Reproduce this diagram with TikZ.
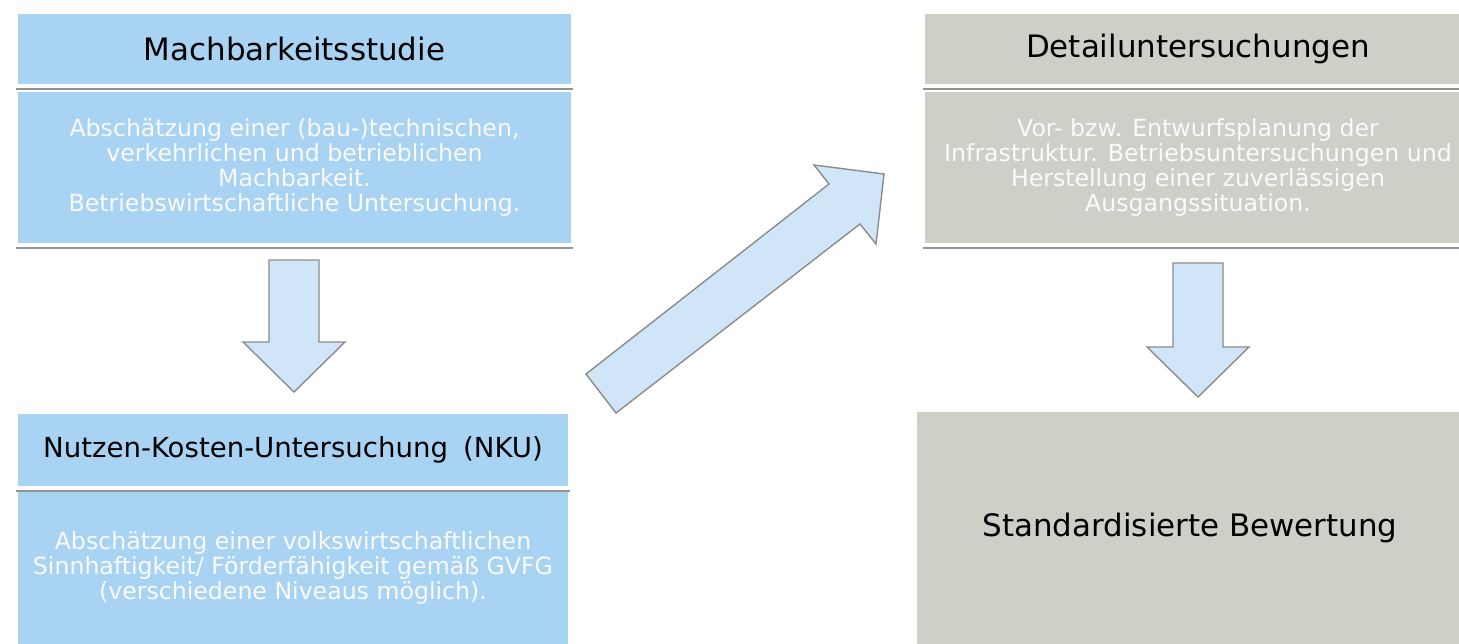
\documentclass[tikz,border=0pt]{standalone}
\usepackage{fontspec}
\setmainfont{DejaVu Sans}
\usetikzlibrary{shadows}
\definecolor{planblue}{HTML}{A9D3F3}
\definecolor{plangray}{HTML}{CFCFC7}
\definecolor{arrowfill}{HTML}{D0E5F8}
\definecolor{arrowline}{HTML}{8C8C8C}
\tikzset{
  box/.style = {rectangle, draw=white, line width=2.2pt, align=center,
    drop shadow={shadow xshift=0pt, shadow yshift=-2.2pt, opacity=0.6,
      fill=black!70}},
  head/.style = {box, font=\fontsize{17.6}{20}\selectfont, text=black},
  body/.style = {box, font=\fontsize{13.45}{14.3}\selectfont, text=white!96!gray},
  blockarrow/.style = {fill=arrowfill, draw=arrowline, line width=0.8pt,
    line join=miter}
}

\begin{document}
\begin{tikzpicture}[x=0.02cm, y=-0.02cm]
\useasboundingbox (0,0) rectangle (1459,644);
\clip (0,0) rectangle (1459,644);

% left column
\node [body, fill=planblue, minimum width=11.14cm, minimum height=3.1cm]
  (machbody) at (294.5,167.5) {Abschätzung einer (bau-)technischen,\\
  verkehrlichen und betrieblichen\\ Machbarkeit.\\
  Betriebswirtschaftliche Untersuchung.};
\node [head, fill=planblue, minimum width=11.14cm, minimum height=1.48cm]
  (machhead) at (294.5,49) {Machbarkeitsstudie};

\node [body, fill=planblue, minimum width=11.08cm, minimum height=3.1cm]
  (nkubody) at (293,568) {Abschätzung einer volkswirtschaftlichen\\
  Sinnhaftigkeit/ Förderfähigkeit gemäß GVFG\\
  (verschiedene Niveaus möglich).};
\node [head, fill=planblue, minimum width=11.08cm, minimum height=1.52cm,
  font=\fontsize{15.7}{19}\selectfont]
  (nkuhead) at (293,450) {Nutzen-Kosten-Untersuchung\hspace{0.55em}(NKU)};

% right column
\node [body, fill=plangray, minimum width=11.0cm, minimum height=3.1cm]
  (detbody) at (1198,167.5) {Vor- bzw. Entwurfsplanung der\\
  Infrastruktur. Betriebsuntersuchungen und\\
  Herstellung einer zuverlässigen\\ Ausgangssituation.};
\node [head, fill=plangray, minimum width=11.0cm, minimum height=1.48cm]
  (dethead) at (1198,49) {Detailuntersuchungen};

\node [head, fill=plangray, minimum width=11.0cm, minimum height=4.7cm]
  (stdbew) at (1190,528) {Standardisierte Bewertung};

% arrows
\draw [blockarrow] (269,260) -- (319,260) -- (319,342) -- (345,342)
  -- (294,392) -- (243,342) -- (269,342) -- cycle;
\draw [blockarrow] (1173,263) -- (1223,263) -- (1223,347) -- (1249,347)
  -- (1198,397) -- (1147,347) -- (1173,347) -- cycle;
\draw [blockarrow] (586,374) -- (829,184) -- (814,165) -- (884,174)
  -- (876,244) -- (860,224) -- (616,413) -- cycle;
\end{tikzpicture}
\end{document}
